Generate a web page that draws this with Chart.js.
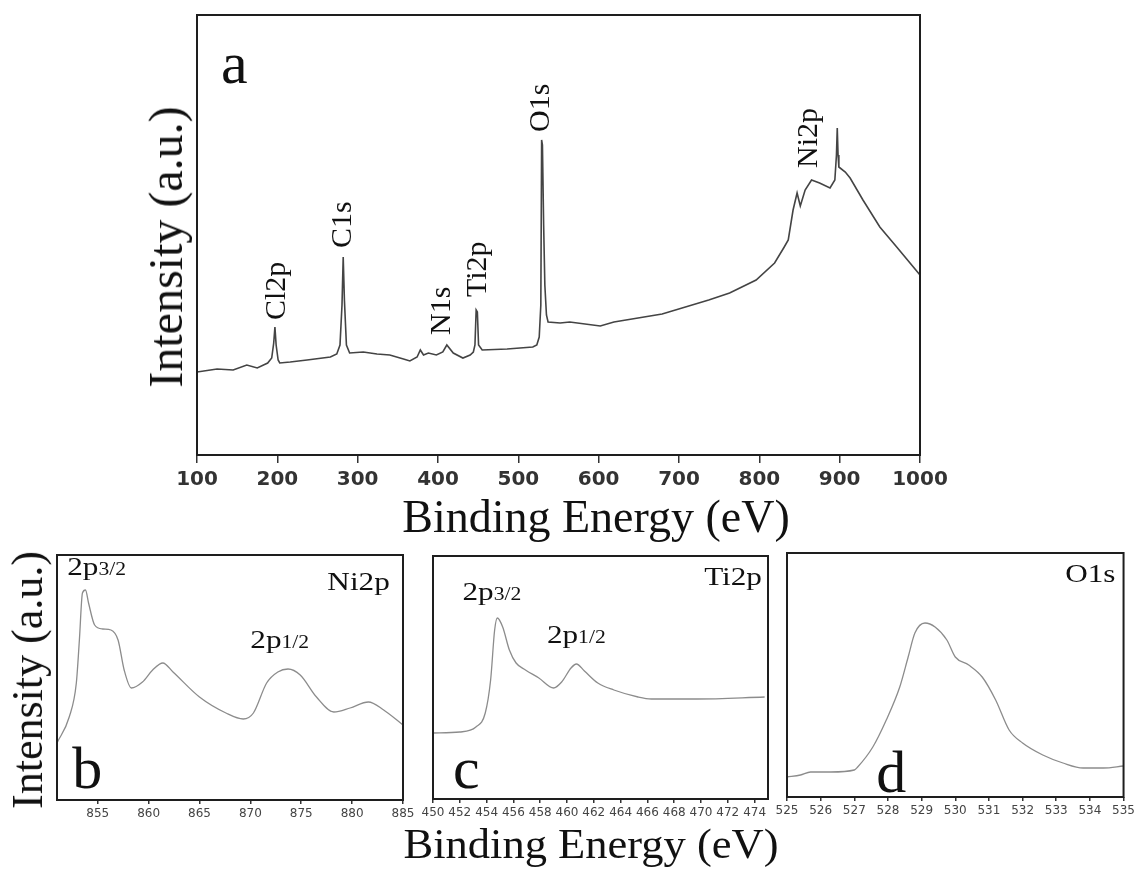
<!DOCTYPE html>
<html lang="en">
<head>
<meta charset="UTF-8">
<title>XPS spectra</title>
<script src="https://cdn.jsdelivr.net/npm/chart.js"></script>
<style>
  body { margin: 0; background: #fff; }
  #page { position: relative; width: 1138px; height: 869px; overflow: hidden; background: #fff; }
  .box { position: absolute; }
  .ttl { position: absolute; font-family: "Liberation Serif", "Times New Roman", serif; color: #111;
         white-space: nowrap; line-height: 1; }
</style>
</head>
<body>
<div id="page">
  <div class="box" style="left:150px; top:0px;"><canvas id="chartA" width="820" height="500"></canvas></div>
  <div class="box" style="left:40px; top:540px;"><canvas id="chartB" width="380" height="290"></canvas></div>
  <div class="box" style="left:415px; top:540px;"><canvas id="chartC" width="370" height="290"></canvas></div>
  <div class="box" style="left:770px; top:540px;"><canvas id="chartD" width="368" height="290"></canvas></div>

  <div class="ttl" style="left:166px; top:247px; font-size:48px; transform:translate(-50%,-50%) rotate(-90deg);">Intensity (a.u.)</div>
  <div class="ttl" style="left:596px; top:494px; font-size:46px; transform:translateX(-50%);">Binding Energy (eV)</div>
  <div class="ttl" style="left:28px; top:680px; font-size:44px; transform:translate(-50%,-50%) rotate(-90deg);">Intensity (a.u.)</div>
  <div class="ttl" style="left:591px; top:823px; font-size:42px; transform:translateX(-50%) scaleX(1.06);">Binding Energy (eV)</div>
</div>

<script>
// ---- data (binding energy in eV, intensity in arbitrary units) ----

// a: survey spectrum
var surveyEnergy = [100, 125, 145, 162, 175, 188, 193, 195.5, 197, 198.5, 201, 203, 216, 237, 266, 274, 278, 280.5, 282, 283.5,
  286, 290, 307, 324, 340, 357, 365, 374, 378, 382, 388, 398, 406, 411, 419, 431, 440, 444, 446, 447.5,
  449, 450.5, 455, 486, 518, 523, 526, 528, 529, 530, 531.5, 533, 535, 537, 552, 564, 602, 619, 679, 737,
  763, 796, 819, 831, 836, 842, 847, 851, 857, 865, 875, 888, 894, 896, 897, 898, 899, 907, 913, 929,
  950, 971, 1000];
var surveyCounts = [83, 86, 85, 90, 87, 92, 97, 112, 128, 110, 95, 92, 93, 95, 98, 101, 110, 150, 198, 155,
  110, 102, 103, 101, 100, 96, 94, 98, 105, 100, 102, 100, 103, 110, 102, 97, 100, 103, 110, 145,
  143, 110, 105, 106, 108, 110, 118, 150, 315, 310, 230, 170, 140, 133, 132, 133, 129, 133, 141, 155,
  162, 175, 192, 208, 215, 245, 262, 249, 265, 275, 272, 267, 275, 300, 327, 300, 288, 283, 277, 255,
  228, 208, 180];
var surveyTicks = [100, 200, 300, 400, 500, 600, 700, 800, 900, 1000];
var surveyPeaks = ['Cl2p', 'C1s', 'N1s', 'Ti2p', 'O1s', 'Ni2p'];
var surveyPeakAt = [199.6, 281.7, 405, 449.8, 528.2, 861.8];
var surveyPeakLabelY = [135, 207, 120, 158, 323, 287];

// b: Ni2p
var niEnergy = [851.0, 852.2, 852.9, 853.2, 853.5, 853.8, 854.1, 854.7, 855.5, 856.3, 857.0, 857.6, 858.3, 859.4, 860.4,
  861.4, 862.4, 865.0, 867.6, 869.3, 870.3, 871.6, 872.7, 873.7, 874.9, 876.5, 878.2, 879.8, 881.6, 883.1, 885.0];
var niCounts = [57, 83, 117, 160, 207, 210, 197, 175, 171, 170, 160, 130, 112, 118, 130,
  137, 128, 103, 87, 81, 87, 117, 128, 131, 125, 103, 88, 92, 98, 90, 75];
var niTicks = [855, 860, 865, 870, 875, 880, 885];

// c: Ti2p
var tiEnergy = [450, 452, 453.2, 453.9, 454.3, 454.6, 454.8, 455.2, 455.7, 456.2, 456.9, 457.9, 459.0, 459.6, 460.3,
  460.7, 461.3, 462.3, 463.5, 465.3, 466.3, 469.7, 474.75];
var tiCounts = [66, 67, 72, 86, 119, 169, 181, 172, 149, 136, 129, 121, 111, 117, 131,
  135, 128, 116, 109, 102, 100, 100, 102];
var tiTicks = [450, 452, 454, 456, 458, 460, 462, 464, 466, 468, 470, 472, 474];

// d: O1s
var oEnergy = [525.0, 525.4, 525.7, 526.3, 527.0, 527.1, 527.55, 527.95, 528.35, 528.6, 528.8, 529.1, 529.4, 529.75,
  530.0, 530.4, 530.8, 531.2, 531.6, 532.0, 532.6, 533.2, 533.8, 534.4, 535.0];
var oCounts = [20, 22, 25, 25, 27, 30, 50, 77, 110, 140, 164, 174, 170, 157,
  140, 132, 120, 97, 67, 54, 42, 34, 29, 29, 31];
var oTicks = [525, 526, 527, 528, 529, 530, 531, 532, 533, 534, 535];

// ---- plugin: frame around plot area + text notes placed in data coordinates ----
const notesPlugin = {
  id: 'notes',
  afterDatasetsDraw(chart, args, opts) {
    const ctx = chart.ctx, a = chart.chartArea;
    const xs = chart.scales.x, ys = chart.scales.y;
    ctx.save();
    ctx.strokeStyle = '#1e1e1e';
    ctx.lineWidth = 2;
    ctx.strokeRect(a.left, a.top, a.right - a.left, a.bottom - a.top);
    (opts.items || []).forEach(function (n) {
      const serif = '"Liberation Serif", "Times New Roman", serif';
      ctx.save();
      ctx.translate(xs.getPixelForValue(n.x), ys.getPixelForValue(n.y));
      if (n.rotate) ctx.rotate(-Math.PI / 2);
      ctx.scale(n.sx || 1, 1);
      ctx.fillStyle = '#111';
      ctx.textAlign = 'left';
      ctx.textBaseline = n.rotate ? 'middle' : 'alphabetic';
      ctx.font = n.size + 'px ' + serif;
      const w1 = ctx.measureText(n.text).width;
      let w2 = 0;
      if (n.sub) {
        ctx.font = Math.round(n.size * 0.68) + 'px ' + serif;
        w2 = ctx.measureText(n.sub).width;
      }
      let x0 = n.align === 'right' ? -(w1 + w2) : 0;
      ctx.font = n.size + 'px ' + serif;
      ctx.fillText(n.text, x0, 0);
      if (n.sub) {
        ctx.font = Math.round(n.size * 0.68) + 'px ' + serif;
        ctx.fillText(n.sub, x0 + w1, 0);
      }
      ctx.restore();
    });
    ctx.restore();
  }
};

function makeChart(id, energy, counts, opt) {
  const points = energy.map(function (e, i) { return { x: e, y: counts[i] }; });
  return new Chart(document.getElementById(id), {
    type: 'line',
    data: {
      datasets: [{
        data: points,
        borderColor: opt.color,
        borderWidth: opt.lineWidth,
        pointRadius: 0,
        tension: opt.smooth ? 0.4 : 0,
        cubicInterpolationMode: opt.smooth ? 'monotone' : 'default',
        fill: false
      }]
    },
    options: {
      responsive: false,
      animation: false,
      devicePixelRatio: 1,
      layout: { padding: opt.padding },
      plugins: {
        legend: { display: false },
        tooltip: { enabled: false },
        notes: { items: opt.notes }
      },
      scales: {
        x: {
          type: 'linear',
          min: opt.xMin,
          max: opt.xMax,
          afterBuildTicks: function (s) { s.ticks = opt.ticks.map(function (v) { return { value: v }; }); },
          afterFit: function (s) { s.height = opt.axisHeight; },
          grid: { display: true, drawOnChartArea: false, drawTicks: true, tickLength: opt.tickLength, color: '#333', lineWidth: 1.5 },
          border: { display: false },
          ticks: {
            autoSkip: false, maxRotation: 0, padding: opt.tickPad,
            color: opt.tickColor,
            font: { family: 'DejaVu Sans', size: opt.tickSize, weight: opt.tickWeight },
            callback: function (v) { return String(v); }
          }
        },
        y: { display: false, min: 0, max: opt.yMax }
      }
    },
    plugins: [notesPlugin]
  });
}

// a
var surveyNotes = surveyPeaks.map(function (t, i) {
  return { text: t, x: surveyPeakAt[i], y: surveyPeakLabelY[i], size: 30, rotate: true };
});
surveyNotes.push({ text: 'a', x: 130, y: 372, size: 60 });
makeChart('chartA', surveyEnergy, surveyCounts, {
  color: '#444', lineWidth: 1.6, smooth: false,
  padding: { left: 47, top: 15, right: 50, bottom: 0 },
  xMin: 100, xMax: 1000, yMax: 440, ticks: surveyTicks,
  axisHeight: 45, tickLength: 8, tickPad: 5, tickSize: 20, tickWeight: 'bold', tickColor: '#333',
  notes: surveyNotes
});

// b
makeChart('chartB', niEnergy, niCounts, {
  color: '#8c8c8c', lineWidth: 1.3, smooth: true,
  padding: { left: 17, top: 15, right: 17, bottom: 0 },
  xMin: 851, xMax: 885, yMax: 245, ticks: niTicks,
  axisHeight: 30, tickLength: 4, tickPad: 3, tickSize: 12, tickWeight: 'normal', tickColor: '#444',
  notes: [
    { text: '2p', sub: '3/2', x: 852.0, y: 225, size: 26, sx: 1.2 },
    { text: 'Ni2p', x: 883.7, y: 210, size: 26, sx: 1.2, align: 'right' },
    { text: '2p', sub: '1/2', x: 870.0, y: 152, size: 26, sx: 1.2 },
    { text: 'b', x: 852.5, y: 12, size: 60 }
  ]
});

// c
makeChart('chartC', tiEnergy, tiCounts, {
  color: '#8c8c8c', lineWidth: 1.3, smooth: true,
  padding: { left: 18, top: 16, right: 17, bottom: 0 },
  xMin: 450, xMax: 475, yMax: 243, ticks: tiTicks,
  axisHeight: 31, tickLength: 4, tickPad: 3, tickSize: 12, tickWeight: 'normal', tickColor: '#444',
  notes: [
    { text: '2p', sub: '3/2', x: 452.2, y: 199, size: 26, sx: 1.2 },
    { text: '2p', sub: '1/2', x: 458.5, y: 156, size: 26, sx: 1.2 },
    { text: 'Ti2p', x: 474.55, y: 214, size: 26, sx: 1.2, align: 'right' },
    { text: 'c', x: 451.5, y: 11, size: 60 }
  ]
});

// d
makeChart('chartD', oEnergy, oCounts, {
  color: '#8c8c8c', lineWidth: 1.3, smooth: true,
  padding: { left: 17, top: 13, right: 12, bottom: 0 },
  xMin: 525, xMax: 535, yMax: 244, ticks: oTicks,
  axisHeight: 33, tickLength: 4, tickPad: 3, tickSize: 12, tickWeight: 'normal', tickColor: '#444',
  notes: [
    { text: 'O1s', x: 534.76, y: 215, size: 26, sx: 1.2, align: 'right' },
    { text: 'd', x: 527.65, y: 5, size: 60 }
  ]
});
</script>
</body>
</html>
